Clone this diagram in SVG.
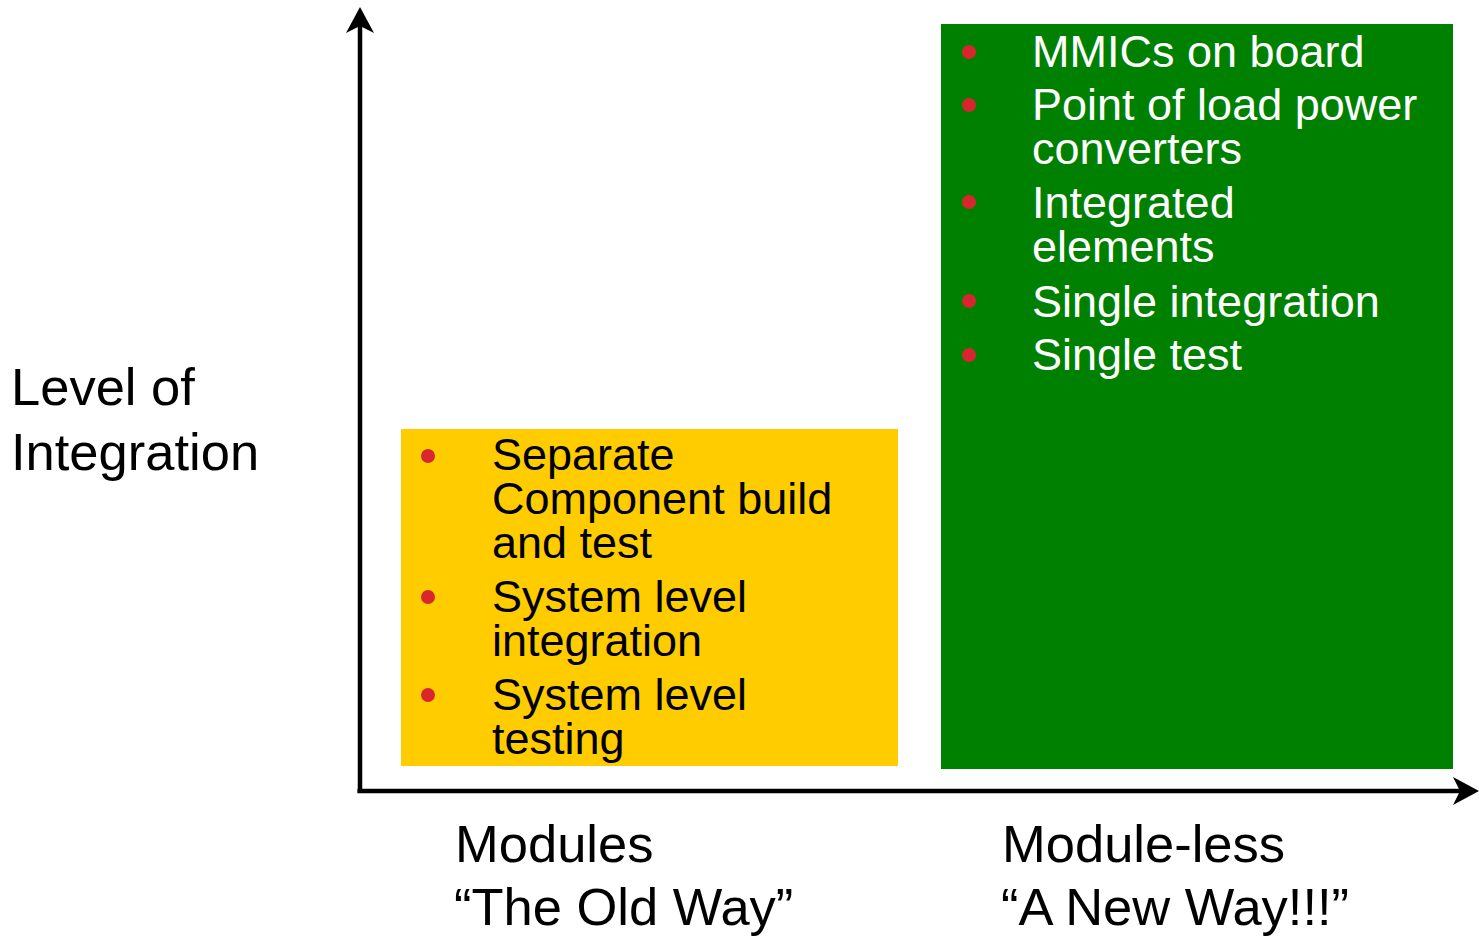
<svg xmlns="http://www.w3.org/2000/svg" width="1479" height="938" viewBox="0 0 1479 938">
<style>
text{font-family:"Liberation Sans",Arial,sans-serif}
.b{font-size:45px}
.dk{fill:#000}
.wt{fill:#fff}
.lbl{font-size:52.5px;fill:#000}
.dot{fill:#D9262E}
.ax{stroke:#000;stroke-width:4.5;fill:none}
</style>
<defs>
<marker id="ah" markerUnits="userSpaceOnUse" markerWidth="26" markerHeight="28" viewBox="0 0 26 28" refX="16" refY="14" orient="auto">
<path d="M0,0 L26,14 L0,28 L7,14 Z" fill="#000"/>
</marker>
</defs>
<rect width="1479" height="938" fill="#fff"/>
<g id="old-way">
<rect x="401" y="429" width="497" height="337" fill="#FFCC00"/>
<circle class="dot" cx="428" cy="456" r="7"/>
<circle class="dot" cx="428" cy="597" r="7"/>
<circle class="dot" cx="428" cy="695" r="7"/>
<text class="b dk" x="492" y="470">Separate</text>
<text class="b dk" x="492" y="514">Component build</text>
<text class="b dk" x="492" y="558">and test</text>
<text class="b dk" x="492" y="612">System level</text>
<text class="b dk" x="492" y="656">integration</text>
<text class="b dk" x="492" y="710">System level</text>
<text class="b dk" x="492" y="754">testing</text>
</g>
<g id="new-way">
<rect x="941" y="24" width="512" height="745" fill="#008000"/>
<circle class="dot" cx="969" cy="52" r="7"/>
<circle class="dot" cx="969" cy="105" r="7"/>
<circle class="dot" cx="969" cy="202" r="7"/>
<circle class="dot" cx="969" cy="301" r="7"/>
<circle class="dot" cx="969" cy="355" r="7"/>
<text class="b wt" x="1032" y="67">MMICs on board</text>
<text class="b wt" x="1032" y="120">Point of load power</text>
<text class="b wt" x="1032" y="164">converters</text>
<text class="b wt" x="1032" y="218">Integrated</text>
<text class="b wt" x="1032" y="262">elements</text>
<text class="b wt" x="1032" y="317">Single integration</text>
<text class="b wt" x="1032" y="370">Single test</text>
</g>
<g id="axes">
<line class="ax" x1="360" y1="793" x2="360" y2="17" marker-end="url(#ah)"/>
<line class="ax" x1="357.5" y1="791" x2="1469" y2="791" marker-end="url(#ah)"/>
</g>
<g id="y-label">
<text class="lbl" x="11" y="405">Level of</text>
<text class="lbl" x="11" y="470">Integration</text>
</g>
<g id="x-label-old">
<text class="lbl" x="455" y="862">Modules</text>
<text class="lbl" x="454" y="925">“The Old Way”</text>
</g>
<g id="x-label-new">
<text class="lbl" x="1002" y="862">Module-less</text>
<text class="lbl" x="1001" y="925">“A New Way!!!”</text>
</g>
</svg>
